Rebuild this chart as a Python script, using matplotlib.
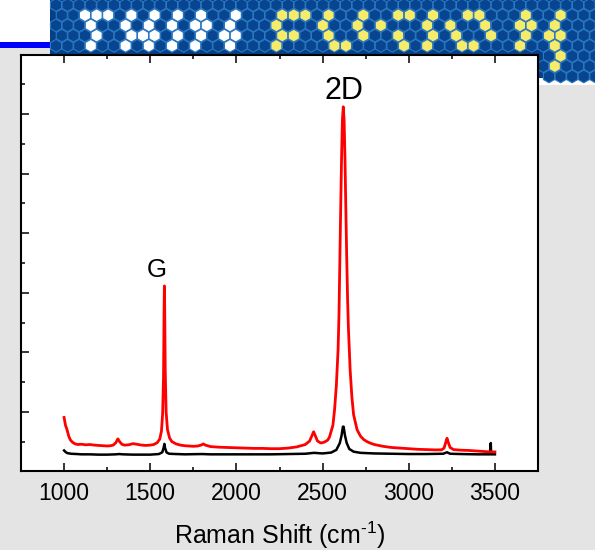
import matplotlib
matplotlib.use("Agg")
import matplotlib.pyplot as plt
from matplotlib.patches import RegularPolygon, Rectangle
from matplotlib.ticker import MultipleLocator, NullFormatter

plt.rcParams["font.family"] = ["Liberation Sans", "DejaVu Sans"]
plt.rcParams["mathtext.fontset"] = "custom"
plt.rcParams["mathtext.rm"] = "Liberation Sans"
plt.rcParams["mathtext.default"] = "regular"

# ---- spectra (x: Raman shift, y: arb. units) ----
red_x = [1000, 1008, 1017, 1027, 1037, 1050, 1065, 1080, 1100, 1125, 1150, 1175,
         1200, 1225, 1250, 1270, 1285, 1300, 1312, 1322, 1335, 1350, 1375, 1400,
         1420, 1450, 1475, 1500, 1520, 1540, 1555, 1565, 1572, 1577, 1580, 1582,
         1584, 1587, 1592, 1600, 1612, 1625, 1650, 1675, 1700, 1725, 1750, 1775,
         1795, 1808, 1820, 1850, 1875, 1900, 1950, 2000, 2050, 2100, 2150, 2200,
         2250, 2300, 2350, 2400, 2425, 2440, 2448, 2456, 2470, 2490, 2510, 2530,
         2540, 2560, 2570, 2580, 2590, 2595, 2600, 2605, 2610, 2615, 2620, 2625,
         2630, 2635, 2640, 2645, 2650, 2660, 2670, 2680, 2700, 2720, 2740, 2760,
         2780, 2800, 2825, 2850, 2875, 2900, 2950, 3000, 3050, 3100, 3150, 3190,
         3205, 3215, 3222, 3230, 3240, 3260, 3300, 3350, 3400, 3450, 3500]
red_y = [1.81, 1.55, 1.40, 1.18, 1.05, 0.97, 0.92, 0.90, 0.91, 0.89, 0.90, 0.88,
         0.87, 0.86, 0.85, 0.86, 0.88, 0.96, 1.09, 1.00, 0.91, 0.88, 0.89, 0.93,
         0.91, 0.88, 0.87, 0.88, 0.90, 0.96, 1.08, 1.35, 1.95, 3.20, 5.30, 6.23,
         5.40, 3.40, 2.00, 1.40, 1.12, 1.00, 0.92, 0.88, 0.86, 0.85, 0.84, 0.85,
         0.88, 0.92, 0.88, 0.83, 0.82, 0.81, 0.80, 0.79, 0.78, 0.77, 0.77, 0.76,
         0.76, 0.78, 0.82, 0.90, 1.02, 1.22, 1.33, 1.22, 1.02, 0.95, 0.98, 1.05,
         1.15, 1.55, 2.10, 2.90, 4.10, 5.20, 7.00, 8.80, 10.50, 11.80, 12.25, 11.80,
         10.50, 8.80, 7.20, 5.80, 4.80, 3.40, 2.50, 1.90, 1.40, 1.18, 1.06, 0.99,
         0.94, 0.90, 0.87, 0.84, 0.82, 0.80, 0.78, 0.76, 0.74, 0.73, 0.72, 0.72,
         0.78, 0.98, 1.11, 0.96, 0.80, 0.73, 0.71, 0.70, 0.68, 0.66, 0.65]

black_x = [1000, 1010, 1020, 1040, 1075, 1100, 1150, 1200, 1250, 1300, 1320, 1340,
           1400, 1450, 1500, 1550, 1570, 1578, 1582, 1586, 1595, 1610, 1650, 1700,
           1800, 1850, 1900, 2000, 2100, 2200, 2300, 2400, 2450, 2500, 2550, 2580,
           2600, 2610, 2618, 2622, 2630, 2640, 2655, 2680, 2720, 2800, 2900, 3000,
           3100, 3200, 3222, 3240, 3300, 3400, 3470, 3476, 3478, 3500]
black_y = [0.70, 0.64, 0.61, 0.59, 0.58, 0.57, 0.57, 0.56, 0.56, 0.57, 0.58, 0.57,
           0.56, 0.56, 0.56, 0.58, 0.64, 0.80, 0.92, 0.78, 0.63, 0.59, 0.58, 0.57,
           0.58, 0.57, 0.57, 0.57, 0.57, 0.57, 0.58, 0.59, 0.62, 0.60, 0.63, 0.72,
           0.95, 1.20, 1.50, 1.50, 1.20, 0.95, 0.75, 0.66, 0.62, 0.60, 0.59, 0.58,
           0.58, 0.59, 0.64, 0.59, 0.58, 0.57, 0.57, 0.95, 0.57, 0.57]

peak_labels = ["G", "2D"]
peak_pos = [(1540, 6.53), (2622, 12.51)]
peak_sizes = [18.5, 22]

# banner: highlighted hex cells as (row, column)
white_cells = [(1, 2), (1, 3), (1, 4), (1, 6), (1, 8), (1, 10), (1, 12), (1, 15),
               (2, 3), (2, 6), (2, 8), (2, 10), (2, 12), (2, 13), (2, 15),
               (3, 3), (3, 6), (3, 7), (3, 8), (3, 10), (3, 12), (3, 14), (3, 15),
               (4, 3), (4, 6), (4, 8), (4, 10), (4, 12), (4, 15)]
yellow_cells = [(1, 19), (1, 20), (1, 21), (1, 23), (1, 26), (1, 29), (1, 30), (1, 32),
                (1, 35), (1, 36), (1, 40), (1, 43),
                (2, 19), (2, 23), (2, 26), (2, 28), (2, 32), (2, 34), (2, 37), (2, 40),
                (2, 41), (2, 43),
                (3, 19), (3, 20), (3, 23), (3, 26), (3, 29), (3, 32), (3, 34), (3, 37),
                (3, 40), (3, 42), (3, 43),
                (4, 19), (4, 24), (4, 25), (4, 30), (4, 32), (4, 35), (4, 36), (4, 40),
                (4, 43), (5, 43), (6, 43)]
n_rows, n_cols = 8, 48

fig = plt.figure(figsize=(5.95, 5.5), dpi=100)
fig.patch.set_facecolor("#e4e4e4")

# decoration layer in pixel coordinates
bg = fig.add_axes([0, 0, 1, 1], zorder=0)
bg.set_xlim(0, 595)
bg.set_ylim(550, 0)
bg.axis("off")
bg.add_patch(Rectangle((0, 0), 595, 42, color="white", lw=0))
bg.add_patch(Rectangle((538, 0), 57, 85, color="white", lw=0))
bg.add_patch(Rectangle((0, 42), 50, 6, color="#0000ff", lw=0))
bg.add_patch(Rectangle((50, 0), 545, 55, color="#063f86", lw=0))
bg.add_patch(Rectangle((538, 0), 57, 78, color="#063f86", lw=0))
white_set, yellow_set = set(white_cells), set(yellow_cells)
for r in range(n_rows):
    cy = 5 + r * 10.2
    for c in range(n_cols):
        cx = 56 + c * 11.6 + (5.8 if r % 2 else 0)
        if r >= 5 and cx < 540:
            continue
        fc = "#074590"
        if (r, c) in white_set:
            fc = "#ffffff"
        elif (r, c) in yellow_set:
            fc = "#f6ec6a"
        bg.add_patch(RegularPolygon((cx, cy), 6, radius=6.4, orientation=0,
                                    facecolor=fc, edgecolor="#2b78c2", lw=0.8))

ax = fig.add_axes([21 / 595, 1 - 471.3 / 550, 517 / 595, 416.6 / 550], zorder=2)
ax.set_facecolor("white")
ax.plot(black_x, black_y, color="black", lw=1.8)
ax.plot(red_x, red_y, color="#ff0000", lw=2.0)

for lab, (px, py), fs in zip(peak_labels, peak_pos, peak_sizes):
    ax.text(px, py, lab, ha="center", va="baseline", fontsize=fs)

ax.set_xlim(750, 3750)
ax.set_ylim(0, 14)
ax.xaxis.set_major_locator(MultipleLocator(500))
ax.xaxis.set_minor_locator(MultipleLocator(250))
ax.yaxis.set_major_locator(MultipleLocator(2))
ax.yaxis.set_minor_locator(MultipleLocator(1))
ax.yaxis.set_major_formatter(NullFormatter())
ax.tick_params(which="both", direction="in", width=1.1, top=True, right=False)
ax.tick_params(which="major", length=6)
ax.tick_params(which="minor", length=3)
ax.set_xticks([1000, 1500, 2000, 2500, 3000, 3500])
ax.tick_params(axis="x", labelsize=16.5, pad=8)
for s in ax.spines.values():
    s.set_linewidth(1.5)
ax.set_xlabel(r"Raman Shift (cm$^{\text{-1}}$)", fontsize=18, labelpad=10)

fig.savefig("out.png", dpi=100, facecolor=fig.get_facecolor())
